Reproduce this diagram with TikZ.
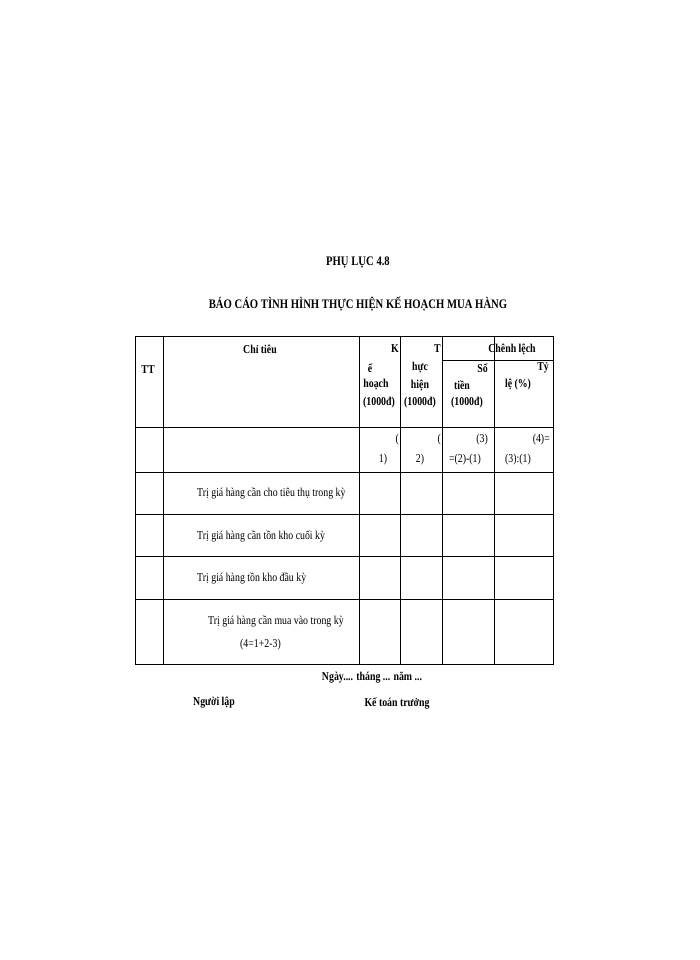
\documentclass[tikz,border=0pt]{standalone}
\usepackage{fontspec}
\setmainfont[FakeStretch=0.82]{Liberation Serif}
\begin{document}
\begin{tikzpicture}[x=1pt,y=-1pt,
  t/.style={inner sep=0pt,font=\fontsize{12}{14}\selectfont},
  tb/.style={t,font=\fontsize{12}{14}\selectfont\bfseries},
  grid/.style={line width=0.8pt}]
\useasboundingbox[fill=white] (0,0) rectangle (700,960);
\node[tb,font=\fontsize{13}{15}\selectfont\bfseries] (p) at (358,262) {PHỤ LỤC 4.8};
\node[tb,font=\fontsize{13}{15}\selectfont\bfseries] (title) at (358,304) {BÁO CÁO TÌNH HÌNH THỰC HIỆN KẾ HOẠCH MUA HÀNG};
% grid
\draw[grid] (135,336) rectangle (553,664);
\foreach \x in {163,359,400,442,494} \draw[grid] (\x,336) -- (\x,664);
\foreach \y in {427,472,514,556,599} \draw[grid] (135,\y) -- (553,\y);
\draw[grid] (442,360) -- (553,360);
% header
\node[tb] (tt) at (148,370) {TT};
\node[tb] (ct) at (260,349) {Chỉ tiêu};
\node[tb,anchor=east] (k) at (399,349) {K};
\node[tb] (k1) at (370,368) {ế};
\node[tb] (k2) at (376,385) {hoạch};
\node[tb] (k3) at (379,403) {(1000đ)};
\node[tb,anchor=east] (th) at (441,349) {T};
\node[tb] (th1) at (420,368) {hực};
\node[tb] (th2) at (420,385) {hiện};
\node[tb] (th3) at (420,403) {(1000đ)};
\node[tb] (cl) at (512,349) {Chênh lệch};
\node[tb,anchor=east] (s1) at (488,368) {Số};
\node[tb] (s2) at (462,385) {tiền};
\node[tb] (s3) at (467,403) {(1000đ)};
\node[tb,anchor=east] (ty1) at (549,368) {Tỷ};
\node[tb] (ty2) at (518,385) {lệ (\%)};
% row 2
\node[t,anchor=east] (a1) at (399,440) {(};
\node[t] (a2) at (383,460) {1)};
\node[t,anchor=east] (b1) at (441,440) {(};
\node[t] (b2) at (420,460) {2)};
\node[t,anchor=east] (c1) at (488,440) {(3)};
\node[t] (c2) at (465,460) {=(2)-(1)};
\node[t,anchor=east] (d1) at (550,440) {(4)=};
\node[t] (d2) at (518,460) {(3):(1)};
% rows
\node[t,anchor=west] (r1) at (197,493) {Trị giá hàng cần cho tiêu thụ trong kỳ};
\node[t,anchor=west] (r2) at (197,536) {Trị giá hàng cần tồn kho cuối kỳ};
\node[t,anchor=west] (r3) at (197,578) {Trị giá hàng tồn kho đầu kỳ};
\node[t,anchor=west] (r4) at (208,621) {Trị giá hàng cần mua vào trong kỳ};
\node[t,anchor=west] (r4b) at (240,645) {(4=1+2-3)};
% footer
\node[tb] (ng) at (372,678) {Ngày.... tháng ... năm ...};
\node[tb] (nl) at (214,703) {Người lập};
\node[tb] (kt) at (397,703) {Kế toán trưởng};
\end{tikzpicture}
\end{document}
